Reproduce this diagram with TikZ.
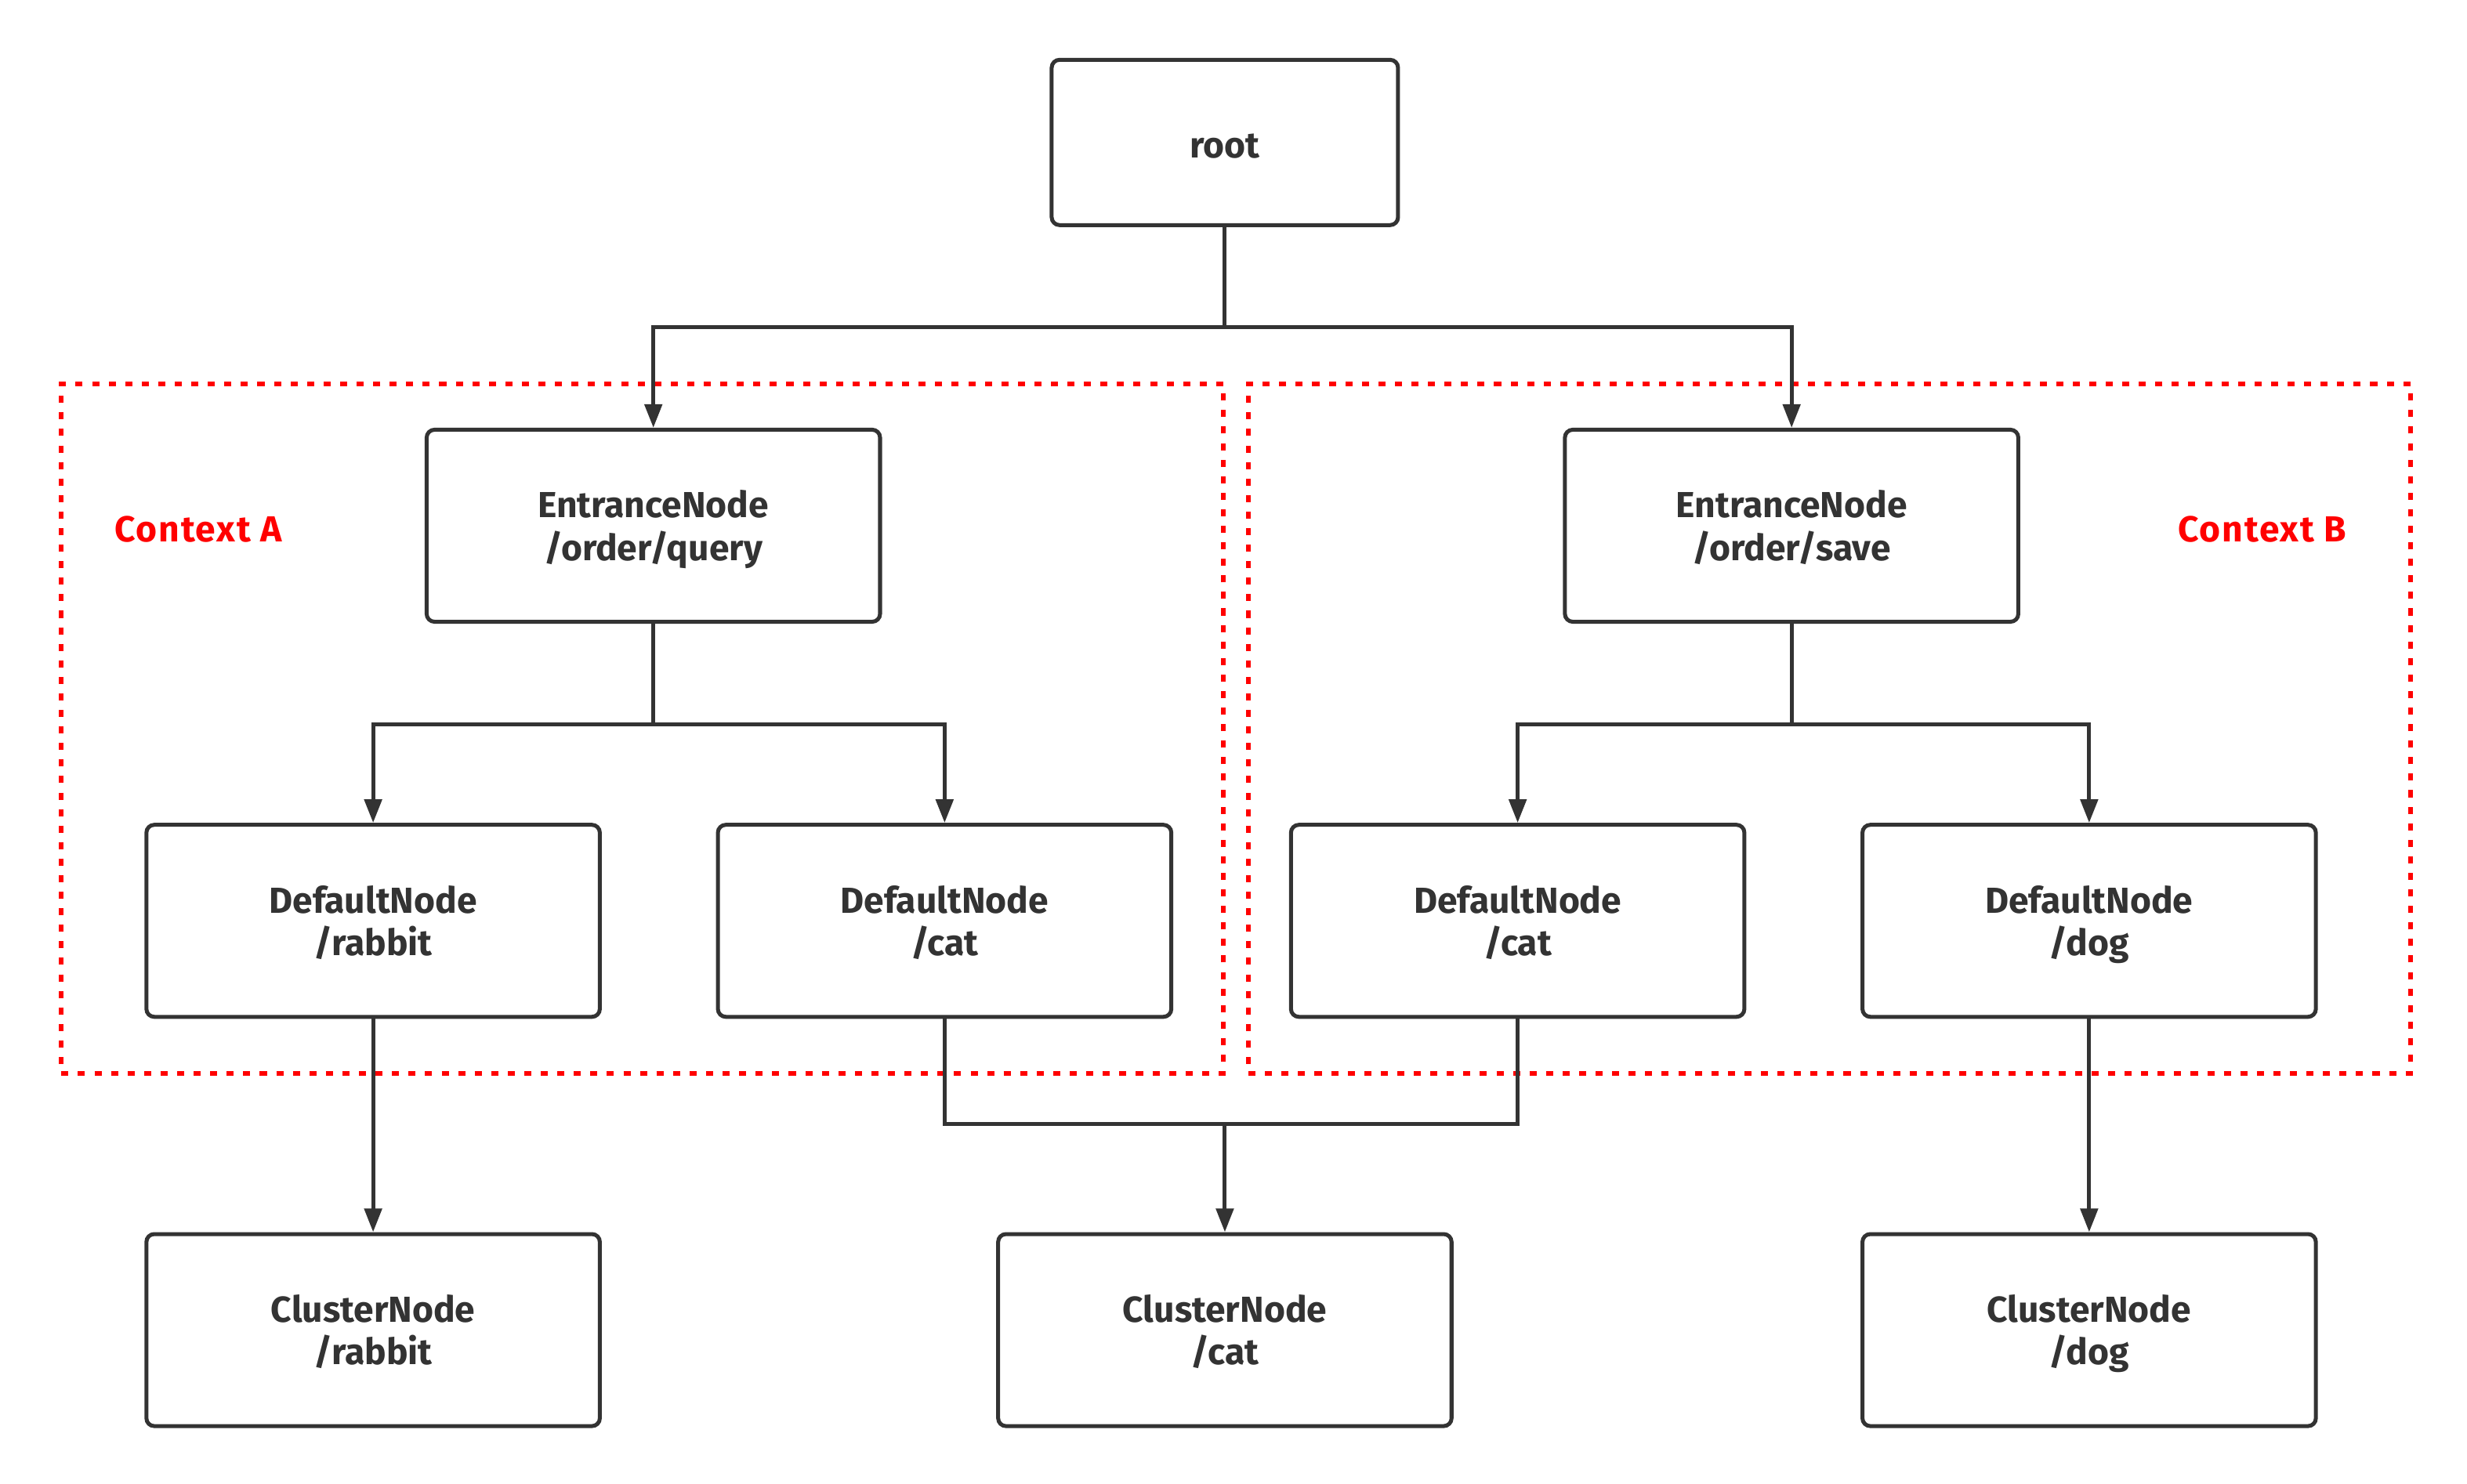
\documentclass[tikz,border=0pt]{standalone}
\usepackage{fontspec}
\setmainfont{Fira Sans}
\usetikzlibrary{arrows.meta}
\definecolor{ink}{HTML}{333333}
\definecolor{ctxred}{HTML}{FF0000}
\newcommand\bxtext[2]{\rule{0pt}{23pt}#1\\#2\rule[-6pt]{0pt}{6pt}}
\tikzset{
  box/.style={draw=ink, line width=2.5pt, rounded corners=5pt, fill=white,
    minimum width=288pt, minimum height=122pt, inner sep=0pt, align=center,
    text=ink, font=\bfseries\fontsize{23}{27}\selectfont},
  ctxbox/.style={draw=ctxred, line width=3pt, dash pattern=on 4.5pt off 6pt, inner sep=0pt},
  ctxlabel/.style={text=ctxred, font=\bfseries\fontsize{23}{27}\selectfont\addfontfeature{LetterSpace=4}},
  conn/.style={draw=ink, line width=2.5pt},
  arr/.style={conn, -{Triangle[length=15pt,width=11pt]}}
}
\begin{document}
\begin{tikzpicture}[x=1pt,y=-1pt]
\useasboundingbox (0,0) rectangle (1567,942.3);
\fill[white] (0,0) rectangle (1567,942.3);
% context frames
\node[ctxbox, minimum width=738pt, minimum height=438pt] (ctxA) at (408,463) {};
\node[ctxbox, minimum width=738pt, minimum height=438pt] (ctxB) at (1162,463) {};
\node[ctxlabel] (labA) at (126,336) {Context A};
\node[ctxlabel] (labB) at (1437,336) {Context B};
% nodes
\node[box, minimum width=220pt, minimum height=105pt, text height=21pt, text depth=1pt] (root) at (778,90.5) {root};
\node[box] (entA) at (415,334) {\bxtext{EntranceNode}{/order/query}};
\node[box] (entB) at (1138,334) {\bxtext{EntranceNode}{/order/save}};
\node[box] (dA1) at (237,585) {\bxtext{DefaultNode}{/rabbit}};
\node[box] (dA2) at (600,585) {\bxtext{DefaultNode}{/cat}};
\node[box] (dB1) at (964,585) {\bxtext{DefaultNode}{/cat}};
\node[box] (dB2) at (1327,585) {\bxtext{DefaultNode}{/dog}};
\node[box] (cR) at (237,845) {\bxtext{ClusterNode}{/rabbit}};
\node[box] (cC) at (778,845) {\bxtext{ClusterNode}{/cat}};
\node[box] (cD) at (1327,845) {\bxtext{ClusterNode}{/dog}};
% junctions
\coordinate (j0) at (778,208);
\coordinate (jA) at (415,460);
\coordinate (jB) at (1138,460);
\coordinate (jC) at (778,714);
% connectors
\draw[conn] (root.south) -- (j0);
\draw[arr] (j0) -| (entA.north);
\draw[arr] (j0) -| (entB.north);
\draw[conn] (entA.south) -- (jA);
\draw[arr] (jA) -| (dA1.north);
\draw[arr] (jA) -| (dA2.north);
\draw[conn] (entB.south) -- (jB);
\draw[arr] (jB) -| (dB1.north);
\draw[arr] (jB) -| (dB2.north);
\draw[arr] (dA1.south) -- (cR.north);
\draw[arr] (dB2.south) -- (cD.north);
\draw[conn] (dA2.south) |- (jC);
\draw[conn] (dB1.south) |- (jC);
\draw[arr] (jC) -- (cC.north);
\end{tikzpicture}
\end{document}
